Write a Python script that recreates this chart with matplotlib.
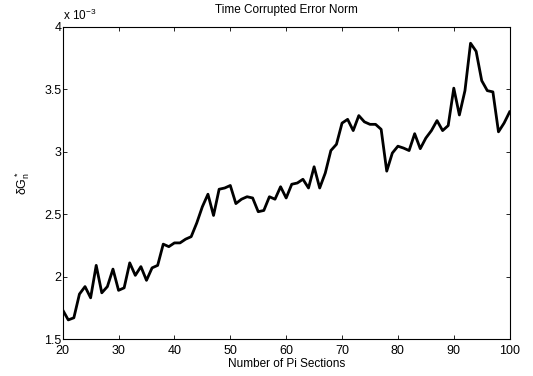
import numpy as np
import matplotlib
matplotlib.use("Agg")
import matplotlib.pyplot as plt

plt.rcParams['font.family'] = ['Liberation Sans', 'DejaVu Sans']
plt.rcParams['mathtext.fontset'] = 'custom'
plt.rcParams['mathtext.rm'] = 'Liberation Sans'
plt.rcParams['mathtext.it'] = 'Liberation Sans'

# Number of Pi sections
sections = list(range(20, 101))

# error norm, in units of 1e-3
error_norm = [
    1.733, 1.653, 1.67, 1.86, 1.92, 1.83, 2.09, 1.87, 1.92, 2.06,
    1.89, 1.91, 2.11, 2.01, 2.08, 1.97, 2.07, 2.09, 2.26, 2.24,
    2.27, 2.27, 2.30, 2.32, 2.43, 2.56, 2.66, 2.49, 2.70, 2.71,
    2.73, 2.585, 2.62, 2.64, 2.63, 2.52, 2.53, 2.64, 2.62, 2.72,
    2.63, 2.74, 2.75, 2.78, 2.71, 2.88, 2.71, 2.83, 3.01, 3.06,
    3.23, 3.26, 3.17, 3.29, 3.24, 3.22, 3.22, 3.18, 2.845, 2.99,
    3.045, 3.03, 3.01, 3.145, 3.025, 3.11, 3.17, 3.25, 3.17, 3.21,
    3.51, 3.295, 3.49, 3.87, 3.805, 3.57, 3.49, 3.48, 3.16, 3.23,
    3.32,
]

fig = plt.figure(figsize=(5.33, 3.76), dpi=100)
ax = fig.add_axes([0.1176, 0.0984, 0.8386, 0.8298])

ax.plot(sections, error_norm, color='black', linewidth=2)

ax.set_xlim(20, 100)
ax.set_ylim(1.5, 4)
ax.set_xticks(range(20, 101, 10))
ax.set_yticks([1.5, 2, 2.5, 3, 3.5, 4])
ax.set_yticklabels(['1.5', '2', '2.5', '3', '3.5', '4'])
ax.tick_params(direction='in', top=True, right=True, labelsize=9,
               length=3, width=0.6)
ax.tick_params(axis='x', pad=4)
ax.tick_params(axis='y', pad=1)
for s in ax.spines.values():
    s.set_linewidth(0.8)

ax.set_title('Time Corrupted Error Norm', fontsize=8.5, pad=10)
ax.set_xlabel('Number of Pi Sections', fontsize=8.5, labelpad=1)
ax.set_ylabel(r'$\delta\mathrm{G}_n^*$', fontsize=9, labelpad=9)
ax.text(0.0, 1.012, r'x 10$^{-3}$', transform=ax.transAxes, fontsize=8.5,
        ha='left', va='bottom')

fig.savefig('out.png', dpi=100)
